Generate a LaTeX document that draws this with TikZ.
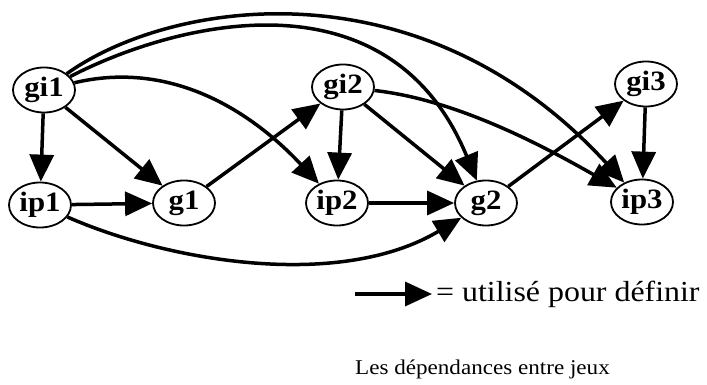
\documentclass[tikz,border=0pt]{standalone}
\usepackage{fontspec}
\setmainfont{Liberation Serif}[FakeStretch=1.1]
\usetikzlibrary{arrows.meta,shapes.geometric}
\tikzset{
  gnode/.style={draw, ellipse, line width=1.8pt, minimum width=62pt, minimum height=45pt, inner sep=0pt,
    font=\bfseries\fontsize{28}{28}\selectfont},
  dep/.style={line width=3.5pt, -{Triangle[length=27pt,width=24pt]}},
}
\begin{document}
\begin{tikzpicture}[x=1pt,y=-1pt]
\useasboundingbox (0,0) rectangle (707,385);
\node[gnode] (gi1) at (44,90) {gi1};
\node[gnode] (ip1) at (40,205) {ip1};
\node[gnode] (g1) at (184,203) {g1};
\node[gnode] (gi2) at (343,87) {gi2};
\node[gnode] (ip2) at (337,203) {ip2};
\node[gnode] (g2) at (486,203) {g2};
\node[gnode] (gi3) at (646,84) {gi3};
\node[gnode] (ip3) at (642,202) {ip3};

\draw[dep] (gi1) -- (ip1);
\draw[dep] (gi1) -- (g1);
\draw[dep] (gi1) .. controls (170,60) and (250,110) .. (ip2);
\draw[dep] (gi1) .. controls (180,20) and (390,-30) .. (g2);
\draw[dep] (gi1) .. controls (170,0) and (420,-40) .. (ip3);
\draw[dep] (ip1) -- (g1);
\draw[dep] (ip1) .. controls (170,262) and (340,290) .. (g2);
\draw[dep] (g1) -- (gi2);
\draw[dep] (gi2) -- (ip2);
\draw[dep] (gi2) -- (g2);
\draw[dep] (gi2) .. controls (460,100) and (550,150) .. (ip3);
\draw[dep] (ip2) -- (g2);
\draw[dep] (g2) -- (gi3);
\draw[dep] (gi3) -- (ip3);

\coordinate (la) at (355,294);
\coordinate (lb) at (432,294);
\draw[dep] (la) -- (lb);
\node[anchor=west, inner sep=0pt, font=\fontsize{29}{29}\selectfont] (lt) at (436,294) {= utilisé pour définir};
\node[anchor=west, inner sep=0pt, font=\fontsize{21}{21}\selectfont] (cap) at (355,369) {Les dépendances entre jeux};
\end{tikzpicture}
\end{document}
